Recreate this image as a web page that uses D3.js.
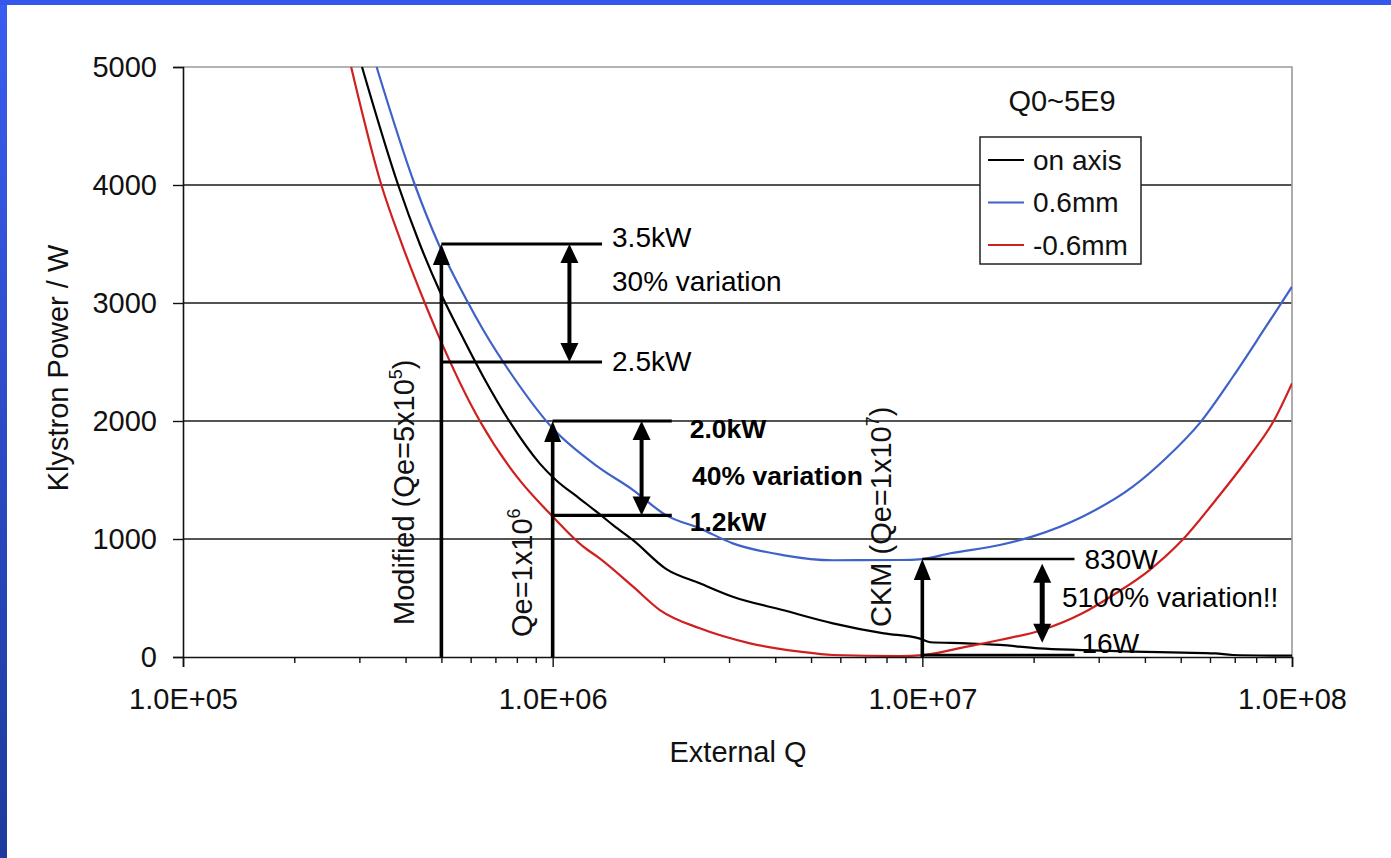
<!DOCTYPE html>
<html>
<head>
<meta charset="utf-8">
<script src="https://cdn.jsdelivr.net/npm/d3@7"></script>
<style>
  html, body { margin: 0; padding: 0; background: #fff; }
  svg { display: block; font-family: "Liberation Sans", Arial, sans-serif; }
</style>
</head>
<body>
<svg id="chart" width="1391" height="858"></svg>
<script>
// ---- data -------------------------------------------------------------
const seriesNames = ["on axis", "0.6mm", "-0.6mm"];

// on-axis coupler
const qOnAxis = [3.05e5, 3.82e5, 4.37e5, 4.95e5, 5.6e5, 6.49e5, 7.65e5, 9.22e5, 1.02e6, 1.18e6,
  1.34e6, 1.46e6, 1.65e6, 2.03e6, 2.5e6, 3.07e6, 4.19e6, 5.73e6, 7.87e6, 9.8e6,
  1.05e7, 1.32e7, 1.62e7, 2.07e7, 2.71e7, 3.71e7, 5.05e7, 6.2e7, 6.9e7, 1e8];
const pOnAxis = [5000, 4000, 3500, 3100, 2760, 2375, 1994, 1641, 1500, 1345,
  1210, 1115, 990, 745, 625, 511, 398, 285, 200, 158,
  125, 116, 102, 73, 59, 45, 37, 31, 17, 11];

// +0.6 mm offset
const qPlus = [3.34e5, 4.24e5, 4.9e5, 5.85e5, 6.49e5, 7.82e5, 1e6, 1.315e6, 1.65e6, 2.03e6,
  2.5e6, 3.07e6, 4.19e6, 5.73e6, 8.69e6, 1e7, 1.19e7, 1.62e7, 1.98e7, 2.71e7,
  3.71e7, 4.56e7, 5.62e7, 6.92e7, 8.5e7, 1e8];
const pPlus = [5000, 4000, 3508, 3025, 2771, 2375, 1938, 1620, 1415, 1200,
  1090, 963, 864, 820, 822, 830, 879, 949, 1020, 1189,
  1443, 1684, 1980, 2375, 2799, 3138];

// -0.6 mm offset
const qMinus = [2.85e5, 3.44e5, 3.9e5, 4.51e5, 4.88e5, 6.37e5, 8.0e5, 1e6, 1.21e6, 1.34e6,
  1.65e6, 1.95e6, 2.5e6, 3.42e6, 4.67e6, 5.73e6, 8.69e6, 1e7, 1.32e7, 1.62e7,
  2.11e7, 2.71e7, 3.34e7, 4.11e7, 5.05e7, 6.22e7, 7.66e7, 8.95e7, 1e8];
const pMinus = [5000, 4000, 3508, 3000, 2743, 1994, 1528, 1190, 935, 836,
  596, 398, 243, 116, 45, 17, 8, 16, 88, 144,
  229, 370, 540, 735, 991, 1331, 1697, 2008, 2319];

const yTicks = [0, 1000, 2000, 3000, 4000, 5000];
const xMajorTicks = [1e5, 1e6, 1e7, 1e8];
const xTickLabels = ["1.0E+05", "1.0E+06", "1.0E+07", "1.0E+08"];

// operating points (Qe, power) marked with vertical arrows
const opQ = [5e5, 1e6, 1e7];
const opP = [3500, 2000, 830];
const levelLabels = ["3.5kW", "2.5kW", "2.0kW", "1.2kW", "830W", "16W"];
const levelP = [3500, 2500, 2000, 1200, 830, 16];
const levelQ0 = [5e5, 5e5, 1e6, 1e6, 1e7, 1e7];
const levelQ1 = [1.36e6, 1.36e6, 2.1e6, 2.1e6, 2.58e7, 2.58e7];
// spread arrows
const spreadQ = [1.11e6, 1.74e6, 2.11e7];
const spreadHi = [3500, 2000, 790];
const spreadLo = [2500, 1200, 120];
const spreadLabels = ["30% variation", "40% variation", "5100% variation!!"];

// ---- layout -----------------------------------------------------------
const svg = d3.select("#chart");
const W = 1391, H = 858;
const x = d3.scaleLog().domain([1e5, 1e8]).range([183, 1292]);
const y = d3.scaleLinear().domain([0, 5000]).range([657, 67]);
const colors = { "on axis": "#000000", "0.6mm": "#3f62c8", "-0.6mm": "#d01f1f" };

// slide frame
const defs = svg.append("defs");
const grad = defs.append("linearGradient").attr("id", "frameGrad")
  .attr("x1", 0).attr("y1", 0).attr("x2", 0).attr("y2", 1);
grad.append("stop").attr("offset", "0%").attr("stop-color", "#3a5cf0");
grad.append("stop").attr("offset", "100%").attr("stop-color", "#1d3a9c");
svg.append("rect").attr("x", 0).attr("y", 0).attr("width", W).attr("height", H).attr("fill", "#fff");
svg.append("rect").attr("x", 0).attr("y", 0).attr("width", 7).attr("height", H).attr("fill", "url(#frameGrad)");
svg.append("rect").attr("x", 0).attr("y", 0).attr("width", W).attr("height", 5).attr("fill", "#3657ec");

defs.append("clipPath").attr("id", "plotClip").append("rect")
  .attr("x", x(1e5)).attr("y", y(5000) - 1)
  .attr("width", x(1e8) - x(1e5)).attr("height", y(0) - y(5000) + 2);

// gridlines
svg.append("g").selectAll("line").data(yTicks.filter(d => d > 0 && d < 5000)).join("line")
  .attr("x1", x(1e5)).attr("x2", x(1e8))
  .attr("y1", d => y(d)).attr("y2", d => y(d))
  .attr("stroke", "#1a1a1a").attr("stroke-width", 1.3);

// plot frame (top and right)
svg.append("path")
  .attr("d", `M${x(1e5)},${y(5000)}H${x(1e8)}V${y(0)}`)
  .attr("fill", "none").attr("stroke", "#9a9a9a").attr("stroke-width", 1.6);

// curves
const line = d3.line().x(d => x(d[0])).y(d => y(d[1])).curve(d3.curveMonotoneX);
const curves = [
  { name: "on axis", q: qOnAxis, p: pOnAxis },
  { name: "0.6mm", q: qPlus, p: pPlus },
  { name: "-0.6mm", q: qMinus, p: pMinus }
];
svg.append("g").attr("clip-path", "url(#plotClip)")
  .selectAll("path").data(curves).join("path")
  .attr("d", c => line(c.q.map((q, i) => [q, c.p[i]])))
  .attr("fill", "none")
  .attr("stroke", c => colors[c.name])
  .attr("stroke-width", 2.2);

// axes
const yAxis = d3.axisLeft(y).tickValues(yTicks).tickSize(10).tickPadding(16).tickFormat(d3.format("d"));
const gy = svg.append("g").attr("transform", `translate(${x(1e5)},0)`).call(yAxis);
const xMinor = [];
for (let e = 5; e < 8; e++) for (let m = 2; m <= 9; m++) xMinor.push(m * Math.pow(10, e));
const gxMinor = svg.append("g").attr("transform", `translate(0,${y(0)})`)
  .call(d3.axisBottom(x).tickValues(xMinor).tickSize(6).tickFormat(""));
const xAxis = d3.axisBottom(x).tickValues(xMajorTicks).tickSize(10).tickPadding(21)
  .tickFormat((d, i) => xTickLabels[i]);
const gx = svg.append("g").attr("transform", `translate(0,${y(0)})`).call(xAxis);
[gy, gx, gxMinor].forEach(g => {
  g.select(".domain").attr("stroke", "#111").attr("stroke-width", 1.6);
  g.selectAll(".tick line").attr("stroke", "#111").attr("stroke-width", 1.4);
  g.selectAll("text").attr("fill", "#111").attr("font-size", 29)
    .attr("font-family", "'Liberation Sans', Arial, sans-serif");
});
gxMinor.select(".domain").remove();

// axis titles
svg.append("text").attr("x", 738).attr("y", 762).attr("text-anchor", "middle")
  .attr("font-size", 29).attr("fill", "#111").text("External Q");
svg.append("text").attr("transform", "translate(68,368) rotate(-90)").attr("text-anchor", "middle")
  .attr("font-size", 29).attr("fill", "#111").text("Klystron Power / W");

// annotation: horizontal level lines
const ann = svg.append("g");
ann.selectAll("line.level").data(levelP).join("line").attr("class", "level")
  .attr("x1", (d, i) => x(levelQ0[i])).attr("x2", (d, i) => x(levelQ1[i]))
  .attr("y1", d => y(d)).attr("y2", d => y(d))
  .attr("stroke", "#000").attr("stroke-width", (d, i) => i >= 4 ? 2.6 : 3.2);

// annotation: vertical arrows at operating points
function upArrow(g, px, pyTip, pyBase, w) {
  g.append("line").attr("x1", px).attr("x2", px).attr("y1", pyBase).attr("y2", pyTip + 16)
    .attr("stroke", "#000").attr("stroke-width", w);
  g.append("path").attr("d", `M${px},${pyTip}L${px - 8.5},${pyTip + 21}L${px + 8.5},${pyTip + 21}Z`).attr("fill", "#000");
}
function downHead(g, px, pyTip) {
  g.append("path").attr("d", `M${px},${pyTip}L${px - 9},${pyTip - 19}L${px + 9},${pyTip - 19}Z`).attr("fill", "#000");
}
opQ.forEach((q, i) => upArrow(ann, x(q), y(opP[i]), y(0), 3.6));

// annotation: double-headed spread arrows
spreadQ.forEach((q, i) => {
  const px = x(q), top = y(spreadHi[i]), bot = y(spreadLo[i]);
  ann.append("line").attr("x1", px).attr("x2", px).attr("y1", top + 14).attr("y2", bot - 14)
    .attr("stroke", "#000").attr("stroke-width", i === 2 ? 5 : 4);
  ann.append("path").attr("d", `M${px},${top}L${px - 9},${top + 19}L${px + 9},${top + 19}Z`).attr("fill", "#000");
  downHead(ann, px, bot);
});

// level labels
const levelDy = [-7, -1, 7, 6, 0, -12];
const levelDx = [10, 10, 18, 18, 10, 7];
const levelBold = [false, false, true, true, false, false];
ann.selectAll("text.level").data(levelLabels).join("text").attr("class", "level")
  .attr("x", (d, i) => x(levelQ1[i]) + levelDx[i])
  .attr("y", (d, i) => y(levelP[i]) + levelDy[i])
  .attr("dy", "0.36em")
  .attr("font-size", (d, i) => levelBold[i] ? 26.5 : 28)
  .attr("font-weight", (d, i) => levelBold[i] ? "bold" : "normal")
  .attr("fill", "#000").text(d => d);

// spread labels
const spreadPos = [[612, 281], [692, 475], [1062, 597]];
ann.selectAll("text.spread").data(spreadLabels).join("text").attr("class", "spread")
  .attr("x", (d, i) => spreadPos[i][0]).attr("y", (d, i) => spreadPos[i][1])
  .attr("dy", "0.36em")
  .attr("font-size", (d, i) => i === 1 ? 26.5 : 28)
  .attr("font-weight", (d, i) => i === 1 ? "bold" : "normal")
  .attr("fill", "#000").text(d => d);

// rotated operating-point captions
function vCaption(px, py, parts, size) {
  const t = ann.append("text").attr("transform", `translate(${px},${py}) rotate(-90)`)
    .attr("font-size", size).attr("fill", "#111");
  parts.forEach(p => {
    const s = t.append("tspan").text(p.t);
    if (p.sup) s.attr("font-size", size * 0.62).attr("dy", -size * 0.42);
    if (p.down) s.attr("dy", size * 0.42);
  });
}
vCaption(414, 625, [{ t: "Modified (Qe=5x10" }, { t: "5", sup: true }, { t: ")", down: true }], 29);
vCaption(532, 637, [{ t: "Qe=1x10" }, { t: "6", sup: true }], 29);
vCaption(891, 627, [{ t: "CKM (Qe=1x10" }, { t: "7", sup: true }, { t: ")", down: true }], 29);

// parameter note and legend
svg.append("text").attr("x", 1062).attr("y", 111).attr("text-anchor", "middle")
  .attr("font-size", 29).attr("fill", "#111").text("Q0~5E9");
const lg = svg.append("g");
lg.append("rect").attr("x", 980).attr("y", 137).attr("width", 161).attr("height", 127)
  .attr("fill", "#fff").attr("stroke", "#222").attr("stroke-width", 1.5);
const lgRows = lg.selectAll("g").data(seriesNames).join("g")
  .attr("transform", (d, i) => `translate(988,${160 + i * 42.5})`);
lgRows.append("line").attr("x1", 0).attr("x2", 36).attr("y1", 0).attr("y2", 0)
  .attr("stroke", d => colors[d]).attr("stroke-width", 2.2);
lgRows.append("text").attr("x", 45).attr("y", 0).attr("dy", "0.34em")
  .attr("font-size", 28).attr("fill", "#111").text(d => d);
</script>
</body>
</html>
